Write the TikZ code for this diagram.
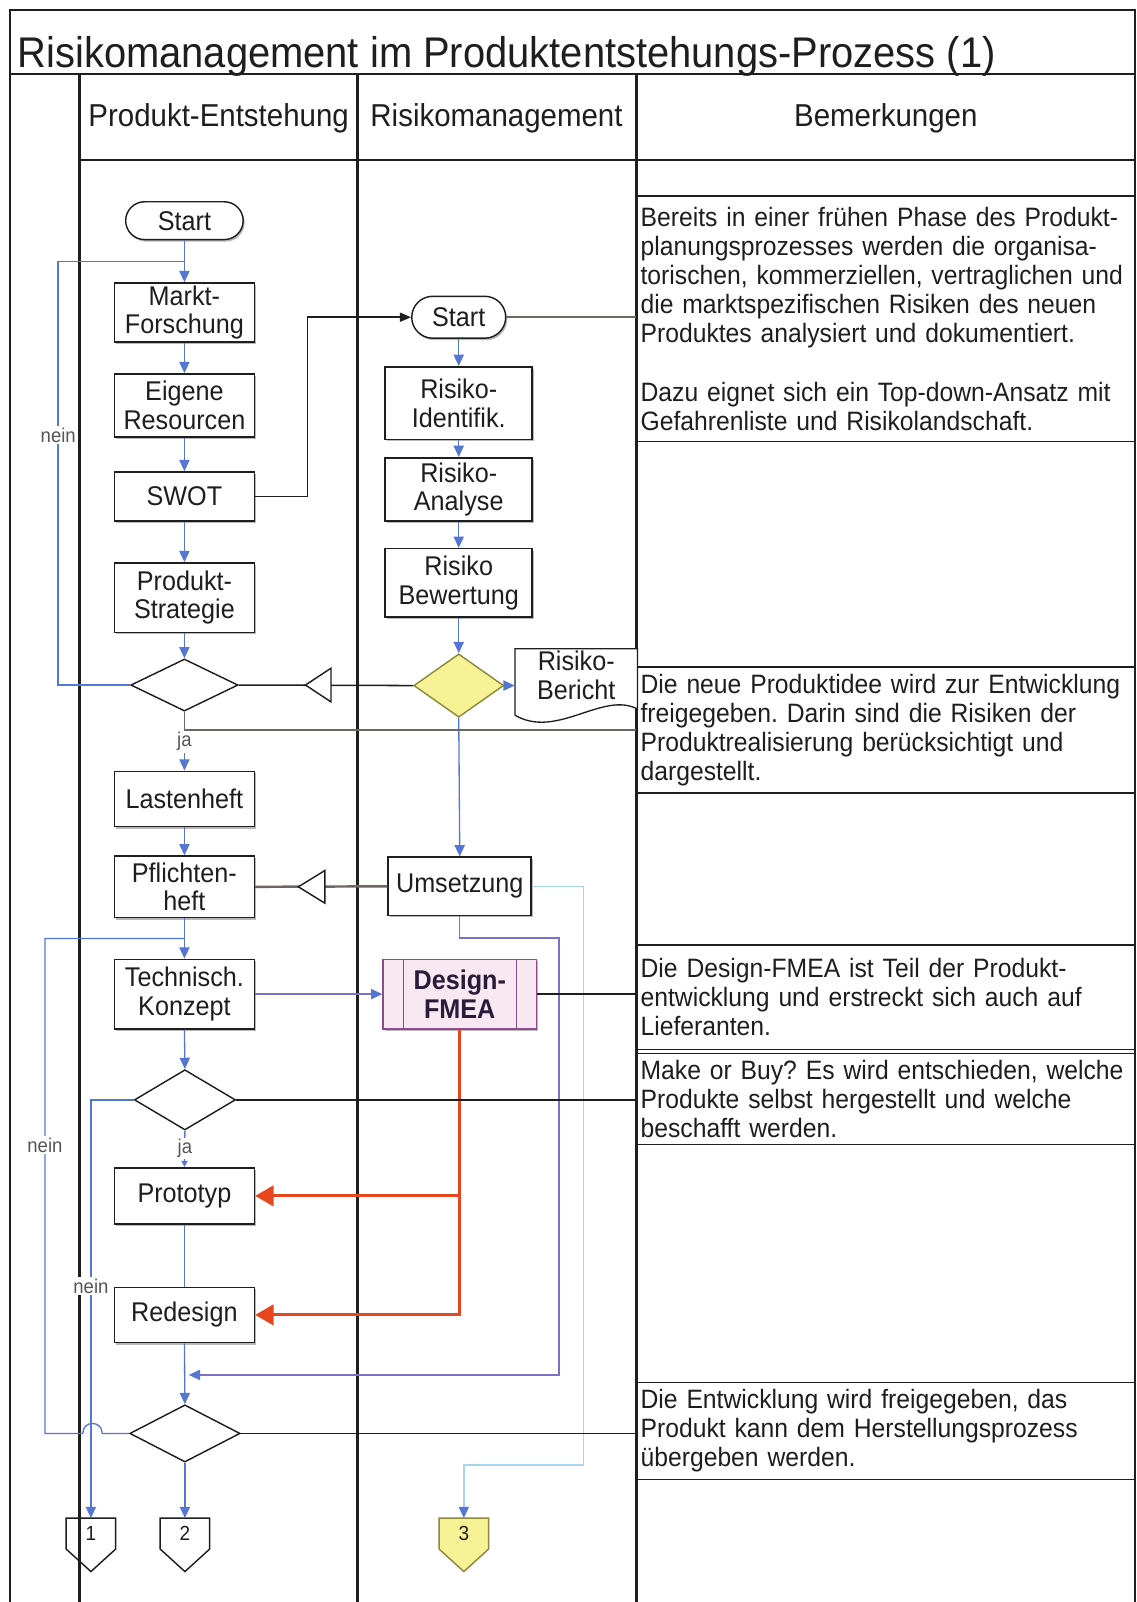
\documentclass[tikz,border=0pt]{standalone}
\usepackage{fontspec}
\setmainfont{Liberation Sans}[FakeStretch=0.93]
\usetikzlibrary{arrows.meta,shapes.geometric,shapes.misc,calc,shadows}
\frenchspacing

\definecolor{inkdark}{HTML}{1E1E1E}
\definecolor{flowblue}{HTML}{5577D4}
\definecolor{linkpurple}{HTML}{7A72C8}
\definecolor{linkcyan}{HTML}{A6D6EC}
\definecolor{riskred}{HTML}{E8461E}
\definecolor{notebrown}{HTML}{6F6661}
\definecolor{fmeafill}{HTML}{F7E8F2}
\definecolor{fmeaedge}{HTML}{8E4B8E}
\definecolor{fmeatext}{HTML}{2B1B3B}
\definecolor{decyellow}{HTML}{F8F296}
\definecolor{yellowedge}{HTML}{8C8A3A}
\definecolor{labelgray}{HTML}{555555}
\definecolor{shadowgray}{HTML}{9A9A9A}

\begin{document}
\begin{tikzpicture}[x=1pt,y=-1pt,
  outerframe/.style={draw=inkdark,line width=2pt},
  lane/.style={draw=inkdark,line width=2.4pt},
  boxshade/.style={drop shadow={shadow xshift=1.5pt,shadow yshift=-2pt,fill=shadowgray,opacity=0.7}},
  proc/.style={rectangle,draw=inkdark,line width=1.6pt,fill=white,minimum width=137pt,boxshade,
    inner sep=0pt,align=center,font=\fontsize{26.5}{28}\selectfont,text=inkdark},
  term/.style={rounded rectangle,draw=inkdark,line width=1.4pt,fill=white,inner sep=0pt,boxshade,
    font=\fontsize{26.5}{28}\selectfont,text=inkdark},
  dec/.style={diamond,draw=inkdark,line width=1.4pt,fill=white,inner sep=0pt},
  pager/.style={rectangle,inner sep=0pt,minimum width=48pt,minimum height=30pt,
    font=\fontsize{20}{22}\selectfont,text=inkdark},
  pageredge/.style={draw=inkdark,line width=1.4pt},
  flow/.style={draw=flowblue,line width=1.3pt,-{Triangle[length=11pt,width=10pt,color=flowblue]}},
  flowline/.style={draw=flowblue,line width=1.3pt},
  noteline/.style={draw=inkdark,line width=1.5pt},
  notebox/.style={rectangle,draw=inkdark,line width=1.4pt,minimum width=488pt,text width=480pt,
    inner xsep=4pt,inner ysep=0pt,align=left,font=\fontsize{26}{28.5}\selectfont,text=inkdark},
  header/.style={anchor=base,inner sep=0pt,font=\fontsize{31}{34}\selectfont,text=inkdark},
  lbl/.style={fill=white,inner sep=1.5pt,font=\fontsize{19.5}{21}\selectfont,text=labelgray},
  riskflow/.style={draw=riskred,line width=3pt,-{Triangle[length=18pt,width=20pt]}},
  openmark/.style={draw=inkdark,line width=1.4pt,fill=white}
]
\useasboundingbox (0,0) rectangle (1112,1568);
\fill[white] (0,0) rectangle (1112,1568);

% frame, title row and swim lanes
\draw[outerframe] (10,1568) -- (10,10) -- (1111,10) -- (1111,1568);
\draw[outerframe] (10,72) -- (1111,72);
\draw[lane] (78,72) -- (78,1568);
\draw[lane] (350,72) -- (350,1568);
\draw[lane] (623,72) -- (623,1568);
\draw[outerframe] (78,157) -- (1111,157);

\node[anchor=base west,inner sep=0pt,font=\fontsize{42}{48}\selectfont,text=inkdark] (title) at (17,66)
  {Risikomanagement im Produktentstehungs-Prozess (1)};
\node[header] (hProd) at (214,124) {Produkt-Entstehung};
\node[header] (hRisk) at (486,124) {Risikomanagement};
\node[header] (hNote) at (867,124) {Bemerkungen};

% remarks column
\node[notebox,minimum height=240pt] (n1) at (867,312) {Bereits in einer frühen Phase des Produkt-\\
planungsprozesses werden die organisa-\\
torischen, kommerziellen, vertraglichen und\\
die marktspezifischen Risiken des neuen\\
Produktes analysiert und dokumentiert.\\[28.5pt]
Dazu eignet sich ein Top-down-Ansatz mit\\
Gefahrenliste und Risikolandschaft.};
\node[notebox,minimum height=123pt] (n2) at (867,714.5) {Die neue Produktidee wird zur Entwicklung\\
freigegeben. Darin sind die Risiken der\\
Produktrealisierung berücksichtigt und\\
dargestellt.};
\node[notebox,minimum height=102pt] (n3) at (867,976) {Die Design-FMEA ist Teil der Produkt-\\
entwicklung und erstreckt sich auch auf\\
Lieferanten.};
\node[notebox,minimum height=89pt] (n4) at (867,1075.5) {Make or Buy? Es wird entschieden, welche\\
Produkte selbst hergestellt und welche\\
beschafft werden.};
\node[notebox,minimum height=95pt] (n5) at (867,1400.5) {Die Entwicklung wird freigegeben, das\\
Produkt kann dem Herstellungsprozess\\
übergeben werden.};

% product development lane
\node[term,minimum width=115pt,minimum height=37pt] (startL) at (180.5,216) {Start};
\node[proc,minimum height=58pt] (markt) at (180.5,306) {Markt-\\Forschung};
\node[proc,minimum height=62pt] (eigene) at (180.5,397) {Eigene\\Resourcen};
\node[proc,minimum height=48pt] (swot) at (180.5,486) {SWOT};
\node[proc,minimum height=68pt] (strat) at (180.5,585) {Produkt-\\Strategie};
\node[dec,minimum width=105pt,minimum height=51pt] (dec1) at (180.5,670.5) {};
\node[proc,minimum height=54pt] (lasten) at (180.5,782) {Lastenheft};
\node[proc,minimum height=60pt] (pflicht) at (180.5,868) {Pflichten-\\heft};
\node[proc,minimum height=68pt] (tech) at (180.5,973) {Technisch.\\Konzept};
\node[dec,minimum width=99pt,minimum height=59pt] (dec2) at (181,1076.5) {};
\node[proc,minimum height=55pt] (proto) at (180.5,1170.5) {Prototyp};
\node[proc,minimum height=54pt] (redes) at (180.5,1287) {Redesign};
\node[dec,minimum width=108pt,minimum height=56pt] (dec3) at (181,1403) {};

% risk management lane
\node[term,minimum width=92pt,minimum height=41pt] (startR) at (449,310.5) {Start};
\node[proc,minimum width=144pt,minimum height=71pt] (ident) at (449,394.5) {Risiko-\\Identifik.};
\node[proc,minimum width=144pt,minimum height=62pt] (analy) at (449,479) {Risiko-\\Analyse};
\node[proc,minimum width=144pt,minimum height=67pt] (bewert) at (449,570.5) {Risiko\\Bewertung};
\node[dec,fill=decyellow,draw=yellowedge,minimum width=88pt,minimum height=62pt] (decY) at (449,671) {};
\node[proc,minimum width=140pt,minimum height=57pt] (umsetz) at (450,867.5) {Umsetzung};
\node[proc,minimum width=150pt,minimum height=68pt,fill=fmeafill,draw=fmeaedge,text=fmeatext,
  font=\fontsize{26.5}{28}\selectfont\bfseries] (fmea) at (450,973) {Design-\\FMEA};
\draw[fmeaedge,line width=1.3pt] ([xshift=21pt]fmea.north west) -- ([xshift=21pt]fmea.south west);
\draw[fmeaedge,line width=1.3pt] ([xshift=-20pt]fmea.north east) -- ([xshift=-20pt]fmea.south east);

% risk report document
\draw[draw=inkdark,line width=1.3pt,fill=white] (504,700) -- (504,635) -- (624,635) -- (624,694)
  .. controls (590,676) and (545,724) .. (504,700) -- cycle;
\node[inner sep=0pt,minimum width=120pt,minimum height=52pt,align=center,
  font=\fontsize{26.5}{28}\selectfont,text=inkdark] (bericht) at (564,661) {Risiko-\\Bericht};

% off-page connectors
\node[pager] (con1) at (89,1501) {1};
\node[pager] (con2) at (181,1501) {2};
\node[pager] (con3) at (454,1501) {3};
\draw[pageredge] (con1.north west) -- (con1.north east) -- (con1.south east) -- ($(con1.south)+(0,22)$) -- (con1.south west) -- cycle;
\draw[pageredge] (con2.north west) -- (con2.north east) -- (con2.south east) -- ($(con2.south)+(0,22)$) -- (con2.south west) -- cycle;
\draw[pageredge,fill=decyellow,draw=yellowedge] (con3.north west) -- (con3.north east) -- (con3.south east) -- ($(con3.south)+(0,22)$) -- (con3.south west) -- cycle;
\node[pager] at (con3) {3};

% helper points on the flow
\coordinate (j1) at ($(startL.south)!0.5!(markt.north)$);
\coordinate (j2) at ($(pflicht.south)!0.5!(tech.north)$);
\coordinate (j3) at ($(redes.south)!0.52!(dec3.north)+(4,0)$);
\coordinate (pu) at (547,918);
\coordinate (cy) at (571,1434);

% product development flow
\draw[flow] (startL.south) -- (markt.north);
\draw[flow] (markt.south) -- (eigene.north);
\draw[flow] (eigene.south) -- (swot.north);
\draw[flow] (swot.south) -- (strat.north);
\draw[flow] (strat.south) -- (dec1.north);
\draw[flowline] (dec1.west) -- ++(-70.5,0) |- (j1);
\draw[flow] (dec1.south) -- (lasten.north);
\draw[flow] (lasten.south) -- (pflicht.north);
\draw[flow] (pflicht.south) -- (tech.north);
\draw[flow] (tech.south) -- (dec2.north);
\draw[flow] (dec2.west) -| (con1.north);
\draw[flow,-{Triangle[length=6pt,width=6pt,color=flowblue]}] (dec2.south) -- (proto.north);
\draw[flowline] (proto.south) -- (redes.north);
\draw[flow] (redes.south) -- (dec3.north);
\draw[flow] (dec3.south) -- (con2.north);
\draw[flowline] (dec3.west) -- (100,1403) .. controls (100,1390) and (81,1390) .. (81,1403)
  -- (44,1403) |- (j2);

% risk management flow
\draw[noteline,-{Triangle[length=11pt,width=9pt]}] (swot.east) -- ++(51,0) |- (startR.west);
\draw[flow] (startR.south) -- (ident.north);
\draw[flow] (ident.south) -- (analy.north);
\draw[flow] (analy.south) -- (bewert.north);
\draw[flow] (bewert.south) -- (decY.north);
\draw[flow] (decY.east) -- (decY.east -| bericht.west);
\draw[flow] (decY.south) -- (umsetz.north);
\draw[noteline] (decY.west) -- (dec1.east);
\draw[openmark] (299,670.5) -- (324,654) -- (324,687) -- cycle;
\draw[draw=notebrown,line width=2.4pt] (umsetz.west) -- (pflicht.east);
\draw[openmark] (292,868) -- (318,852) -- (318,884) -- cycle;
\draw[draw=linkpurple,line width=1.3pt,-{Triangle[length=11pt,width=10pt,color=flowblue]}] (tech.east) -- (fmea.west);
\draw[draw=linkpurple,line width=1.3pt,-{Triangle[length=11pt,width=10pt,color=flowblue]}] (umsetz.south) |- (pu) |- (j3);
\draw[draw=linkcyan,line width=1.3pt,-{Triangle[length=11pt,width=10pt,color=flowblue]}] (umsetz.east) -| (cy) -| (con3.north);
\draw[draw=riskred,line width=3pt] (fmea.south) -- (fmea.south |- proto.east);
\draw[riskflow] (fmea.south |- proto.east) -- (fmea.south |- redes.east) -- (redes.east);
\draw[riskflow] (fmea.south |- proto.east) -- (proto.east);

% links to the remarks
\draw[noteline,draw=notebrown] (startR.east) -- (startR.east -| n1.west);
\draw[noteline,draw=notebrown] (dec1.south) |- (n2.west);
\draw[noteline] (fmea.east) -- (fmea.east -| n3.west);
\draw[noteline] (dec2.east) -- (dec2.east -| n4.west);
\draw[noteline] (dec3.east) -- (dec3.east -| n5.west);

% branch labels
\node[lbl] (neinA) at (57,426) {nein};
\node[lbl] (jaA) at (180.5,726) {ja};
\node[lbl] (neinB) at (44,1121) {nein};
\node[lbl] (jaB) at (181,1124) {ja};
\node[lbl] (neinC) at (89,1259) {nein};
\end{tikzpicture}
\end{document}
